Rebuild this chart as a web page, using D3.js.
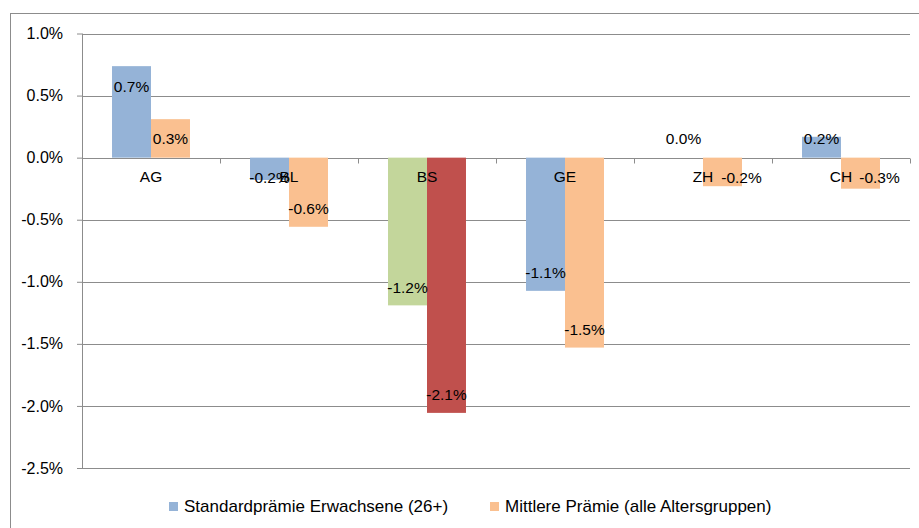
<!DOCTYPE html>
<html>
<head>
    <meta charset="utf-8">
    <title>Prämienveränderung</title>
    <script src="https://cdnjs.cloudflare.com/ajax/libs/d3/7.8.5/d3.min.js"></script>
    <style>
        body{
            margin: 0;
            background: #fff;
        }
        svg{
            display: block;
            font-family: 'Liberation Sans', Arial, sans-serif;
        }
        .domain{
            display: none;
        }
    </style>
</head>
<body>
    <svg id="chart" width="919" height="528"></svg>

    <script>
        // data
        var categories = ["AG", "BL", "BS", "GE", "ZH", "CH"];
        var standardPraemie = [0.737, -0.18, -1.19, -1.073, 0.0, 0.168];
        var mittlerePraemie = [0.31, -0.557, -2.056, -1.53, -0.23, -0.25];
        var seriesNames = ["Standardprämie Erwachsene (26+)", "Mittlere Prämie (alle Altersgruppen)"];
        var yTicks = [1.0, 0.5, 0.0, -0.5, -1.0, -1.5, -2.0, -2.5];

        var colors = ["#95B3D7", "#FAC090"];
        // BS is drawn in other colours
        var pointColors = {BS: ["#C3D69B", "#C0504D"]};
        // labels that Excel pushed aside next to the category name
        var labelNudge = {ZH: [0, 19], CH: [0, 19]};

        var svg = d3.select("#chart");
        var grey = "#8c8c8c";
        var fs = 15.5;
        var pct = d3.formatLocale({decimal: ".", thousands: "'", grouping: [3], currency: ["", ""], minus: "-"}).format(".1f");

        svg.append("rect")
            .attr("x", 10.5).attr("y", 13.5)
            .attr("width", 940).attr("height", 540)
            .attr("fill", "none")
            .attr("stroke", grey);

        var plotLeft = 82, plotRight = 910, plotTop = 33.5, plotBottom = 468;

        var yScale = d3.scaleLinear().domain([-2.5, 1.0]).range([plotBottom, plotTop]);
        var xScale = d3.scaleBand().domain(categories).range([plotLeft, plotRight]);
        var inner = d3.scaleBand().domain([0, 1]).range([0, xScale.bandwidth()]).paddingOuter(0.77).paddingInner(0);

        var yAxis = d3.axisLeft(yScale)
            .tickValues(yTicks)
            .tickSize(5)
            .tickPadding(14)
            .tickFormat(d => pct(d) + "%");

        var yAxisG = svg.append("g")
            .attr("transform", "translate(" + plotLeft + ",0)")
            .call(yAxis);
        yAxisG.selectAll("line").attr("stroke", grey);
        yAxisG.selectAll("text").attr("font-size", 16).attr("fill", "#000").attr("font-family", "inherit");

        // gridlines
        svg.append("g").selectAll("line")
            .data(yTicks)
            .enter()
            .append("line")
            .attr("x1", plotLeft).attr("x2", plotRight)
            .attr("y1", d => Math.round(yScale(d)) + 0.5)
            .attr("y2", d => Math.round(yScale(d)) + 0.5)
            .attr("stroke", grey);

        svg.append("line")
            .attr("x1", plotLeft + 0.5).attr("x2", plotLeft + 0.5)
            .attr("y1", plotTop).attr("y2", plotBottom + 0.5)
            .attr("stroke", grey);

        var zeroY = Math.round(yScale(0)) + 0.5;

        // category tick marks at the zero line
        var bounds = categories.map(c => xScale(c)).concat([plotRight]);
        svg.append("g").selectAll("line")
            .data(bounds)
            .enter()
            .append("line")
            .attr("x1", d => Math.round(d) + 0.5).attr("x2", d => Math.round(d) + 0.5)
            .attr("y1", zeroY).attr("y2", zeroY + 5)
            .attr("stroke", grey);

        var rows = [];
        categories.forEach(function(c, i){
            [standardPraemie[i], mittlerePraemie[i]].forEach(function(v, s){
                rows.push({cat: c, s: s, v: v});
            });
        });

        svg.append("g").selectAll("rect")
            .data(rows)
            .enter()
            .append("rect")
            .attr("x", d => xScale(d.cat) + inner(d.s))
            .attr("width", inner.bandwidth())
            .attr("y", d => Math.min(yScale(d.v), yScale(0)))
            .attr("height", d => Math.abs(yScale(d.v) - yScale(0)))
            .attr("fill", d => pointColors[d.cat] ? pointColors[d.cat][d.s] : colors[d.s]);

        // category names
        svg.append("g").selectAll("text")
            .data(categories)
            .enter()
            .append("text")
            .attr("x", d => xScale(d) + xScale.bandwidth() / 2)
            .attr("y", yScale(0) + 19)
            .attr("dy", "0.35em")
            .attr("text-anchor", "middle")
            .attr("font-size", fs)
            .text(d => d);

        // value labels, inside end
        svg.append("g").selectAll("text")
            .data(rows)
            .enter()
            .append("text")
            .attr("x", d => xScale(d.cat) + inner(d.s) + inner.bandwidth() / 2 + (labelNudge[d.cat] ? labelNudge[d.cat][d.s] : 0))
            .attr("y", function(d){
                if (d.v >= 0) return Math.min(yScale(d.v) + 20, yScale(0) - 19);
                return Math.max(yScale(d.v) - 18, yScale(0) + 20);
            })
            .attr("dy", "0.35em")
            .attr("text-anchor", "middle")
            .attr("font-size", fs)
            .text(d => pct(d.v) + "%");

        // legend
        var legendX = [169, 490];
        var legend = svg.append("g").selectAll("g")
            .data(seriesNames)
            .enter()
            .append("g")
            .attr("transform", (d, i) => "translate(" + legendX[i] + ",502)");
        legend.append("rect")
            .attr("width", 9).attr("height", 9)
            .attr("fill", (d, i) => colors[i]);
        legend.append("text")
            .attr("x", 15).attr("y", 4.5)
            .attr("dy", "0.35em")
            .attr("font-size", 17)
            .text(d => d);
    </script>
</body>
</html>
